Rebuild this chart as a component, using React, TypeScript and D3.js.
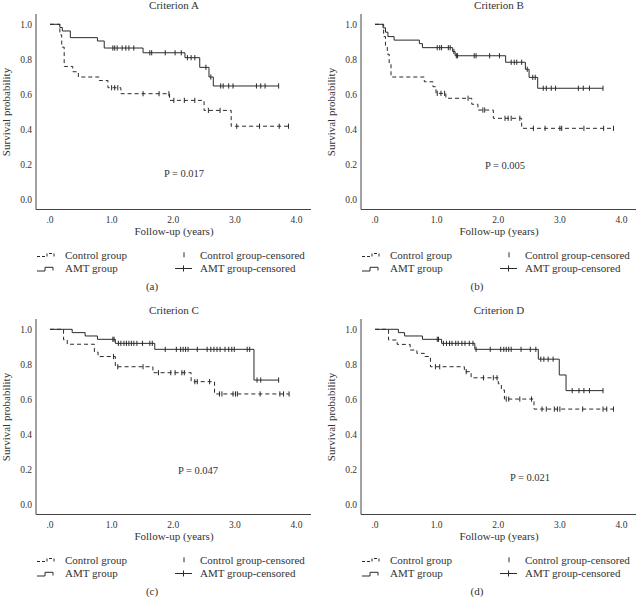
import React from 'react';
import * as d3 from 'd3';

// ---------- data ----------
const xTickValues = [0, 1, 2, 3, 4];
const xTickLabels = ['.0', '1.0', '2.0', '3.0', '4.0'];
const yTickValues = [0, 0.2, 0.4, 0.6, 0.8, 1.0];
const yTickLabels = ['0.0', '0.2', '0.4', '0.6', '0.8', '1.0'];

const titles = ['Criterion A', 'Criterion B', 'Criterion C', 'Criterion D'];
const tags = ['(a)', '(b)', '(c)', '(d)'];
const pTexts = ['P = 0.017', 'P = 0.005', 'P = 0.047', 'P = 0.021'];

// Criterion A
const A_amtTimes = [0.16, 0.2, 0.33, 0.77, 0.88, 1.51, 2.19, 2.43, 2.58, 2.65];
const A_amtSurv = [0.982, 0.962, 0.924, 0.905, 0.865, 0.838, 0.81, 0.755, 0.7, 0.649];
const A_amtCens = [1.02, 1.05, 1.09, 1.17, 1.23, 1.28, 1.36, 1.62, 1.65, 1.87, 2.03, 2.13, 2.23, 2.29, 2.35, 2.53, 2.61, 2.77, 2.81, 2.9, 2.97, 3.35, 3.42, 3.49, 3.71];
const A_ctlTimes = [0.16, 0.19, 0.23, 0.37, 0.46, 0.8, 0.94, 1.15, 1.94, 2.5, 2.94];
const A_ctlSurv = [0.94, 0.87, 0.76, 0.73, 0.7, 0.68, 0.639, 0.605, 0.567, 0.51, 0.42];
const A_ctlCens = [1.0, 1.05, 1.1, 1.51, 1.77, 1.93, 2.01, 2.18, 2.35, 2.57, 2.76, 3.03, 3.4, 3.72, 3.87];

// Criterion B
const B_amtTimes = [0.13, 0.17, 0.21, 0.31, 0.72, 0.77, 1.26, 1.3, 2.12, 2.44, 2.5, 2.64];
const B_amtSurv = [0.98, 0.955, 0.93, 0.91, 0.89, 0.867, 0.845, 0.821, 0.784, 0.744, 0.698, 0.636];
const B_amtCens = [1.01, 1.05, 1.08, 1.19, 1.22, 1.28, 1.32, 1.34, 1.61, 1.64, 1.86, 2.02, 2.21, 2.26, 2.3, 2.38, 2.47, 2.56, 2.6, 2.73, 2.78, 2.86, 2.93, 3.3, 3.38, 3.48, 3.7];
const B_ctlTimes = [0.14, 0.17, 0.2, 0.23, 0.26, 0.8, 0.94, 0.99, 1.15, 1.57, 1.67, 1.92, 2.38];
const B_ctlSurv = [0.93, 0.88, 0.83, 0.78, 0.7, 0.673, 0.645, 0.607, 0.579, 0.545, 0.512, 0.465, 0.408];
const B_ctlCens = [1.01, 1.07, 1.13, 1.51, 1.75, 1.78, 2.11, 2.16, 2.21, 2.35, 2.57, 2.76, 3.0, 3.03, 3.39, 3.71, 3.87];

// Criterion C
const C_amtTimes = [0.36, 0.57, 0.77, 1.06, 1.7, 3.31];
const C_amtSurv = [0.981, 0.962, 0.943, 0.92, 0.886, 0.711];
const C_amtCens = [1.02, 1.04, 1.11, 1.15, 1.2, 1.24, 1.28, 1.32, 1.36, 1.41, 1.5, 1.62, 1.66, 1.87, 2.05, 2.12, 2.16, 2.2, 2.24, 2.39, 2.55, 2.61, 2.66, 2.71, 2.76, 2.84, 2.9, 2.95, 2.99, 3.2, 3.24, 3.36, 3.42, 3.71];
const C_ctlTimes = [0.22, 0.28, 0.72, 0.78, 1.06, 1.67, 2.29, 2.67];
const C_ctlSurv = [0.94, 0.915, 0.87, 0.845, 0.787, 0.753, 0.702, 0.632];
const C_ctlCens = [1.03, 1.1, 1.51, 1.76, 1.96, 2.03, 2.14, 2.18, 2.35, 2.39, 2.59, 2.75, 2.79, 2.97, 3.01, 3.04, 3.41, 3.73, 3.79, 3.88];

// Criterion D
const D_amtTimes = [0.38, 0.48, 0.77, 1.08, 1.62, 2.65, 2.99, 3.1];
const D_amtSurv = [0.981, 0.962, 0.943, 0.92, 0.886, 0.83, 0.74, 0.651];
const D_amtCens = [1.01, 1.03, 1.11, 1.16, 1.21, 1.25, 1.31, 1.35, 1.41, 1.46, 1.53, 1.59, 1.64, 1.87, 2.04, 2.09, 2.13, 2.17, 2.21, 2.37, 2.52, 2.61, 2.69, 2.74, 2.81, 2.89, 3.2, 3.31, 3.39, 3.48, 3.7];
const D_ctlTimes = [0.22, 0.36, 0.57, 0.68, 0.8, 0.9, 1.45, 1.56, 2.0, 2.05, 2.1, 2.58];
const D_ctlSurv = [0.939, 0.914, 0.882, 0.863, 0.845, 0.787, 0.759, 0.724, 0.69, 0.655, 0.603, 0.546];
const D_ctlCens = [0.98, 1.05, 1.48, 1.76, 1.92, 1.98, 2.13, 2.17, 2.35, 2.54, 2.71, 2.78, 2.91, 2.96, 3.0, 3.37, 3.7, 3.76, 3.87];

const legendLabels = ['Control group', 'AMT group', 'Control group-censored', 'AMT group-censored'];

// ---------- layout ----------
const W = 637;
const H = 600;
const FONT = '"Liberation Serif", "Times New Roman", serif';
const INK = '#2a2a2a';
const TEXT = '#333';

const panelOffsets = [
  [0, 0],
  [325, 0],
  [0, 305],
  [325, 305],
];
const pPositions = [
  [184, 173],
  [180, 165],
  [198, 165],
  [205, 172],
];

const series = [
  { amt: [A_amtTimes, A_amtSurv, A_amtCens], ctl: [A_ctlTimes, A_ctlSurv, A_ctlCens] },
  { amt: [B_amtTimes, B_amtSurv, B_amtCens], ctl: [B_ctlTimes, B_ctlSurv, B_ctlCens] },
  { amt: [C_amtTimes, C_amtSurv, C_amtCens], ctl: [C_ctlTimes, C_ctlSurv, C_ctlCens] },
  { amt: [D_amtTimes, D_amtSurv, D_amtCens], ctl: [D_ctlTimes, D_ctlSurv, D_ctlCens] },
];

const x = d3.scaleLinear().domain([0, 4]).range([50, 296.5]);
const y = d3.scaleLinear().domain([0, 1]).range([200, 24.3]);

const stepLine = d3
  .line<[number, number]>()
  .x((d) => x(d[0]))
  .y((d) => y(d[1]))
  .curve(d3.curveStepAfter);

function survAt(times: number[], surv: number[], t: number) {
  let s = 1;
  for (let i = 0; i < times.length; i++) if (times[i] <= t) s = surv[i];
  return s;
}

function Curve({ data, dashed }: { data: number[][]; dashed: boolean }) {
  const [times, surv, cens] = data;
  const end = Math.max(...cens, times[times.length - 1]);
  const pts: [number, number][] = [[0, 1]];
  times.forEach((t, i) => pts.push([t, surv[i]]));
  pts.push([end, surv[surv.length - 1]]);
  return (
    <g>
      <path
        d={stepLine(pts) || ''}
        fill="none"
        stroke={INK}
        strokeWidth={1}
        strokeDasharray={dashed ? '4,3' : undefined}
      />
      {cens.map((t, i) => {
        const s = survAt(times, surv, t);
        return (
          <line
            key={i}
            x1={x(t)}
            x2={x(t)}
            y1={y(s) - 2.6}
            y2={y(s) + 2.6}
            stroke={INK}
            strokeWidth={1}
          />
        );
      })}
    </g>
  );
}

function Panel({ idx }: { idx: number }) {
  const [dx, dy] = panelOffsets[idx];
  const [px, py] = pPositions[idx];
  const s = series[idx];
  return (
    <g transform={`translate(${dx},${dy})`} fontFamily={FONT} fill={TEXT}>
      <text x={174} y={9} fontSize={11} textAnchor="middle">
        {titles[idx]}
      </text>
      {/* axes */}
      <line x1={36} x2={36} y1={14} y2={209.5} stroke="#444" strokeWidth={1} />
      <line x1={36} x2={311} y1={209.5} y2={209.5} stroke="#444" strokeWidth={1} />
      {yTickValues.map((v, i) => (
        <text key={i} x={32} y={y(v) + 3.4} fontSize={9.5} textAnchor="end">
          {yTickLabels[i]}
        </text>
      ))}
      {xTickValues.map((v, i) => (
        <text key={i} x={x(v)} y={223} fontSize={9.5} textAnchor="middle">
          {xTickLabels[i]}
        </text>
      ))}
      <text x={174} y={235} fontSize={11} textAnchor="middle">
        Follow-up (years)
      </text>
      <text transform="translate(10,112) rotate(-90)" fontSize={11} textAnchor="middle">
        Survival probability
      </text>
      <Curve data={s.ctl} dashed={true} />
      <Curve data={s.amt} dashed={false} />
      <text x={px} y={py + 3.6} fontSize={10.5} textAnchor="middle">
        {pTexts[idx]}
      </text>
      {/* legend */}
      <path d="M37,256.5 H47 V253.5 H54 V256.5" fill="none" stroke={INK} strokeWidth={1} strokeDasharray="3,2" />
      <text x={65} y={258.5} fontSize={11}>
        {legendLabels[0]}
      </text>
      <path d="M37,271 H45 V267.3 H53 V270.5" fill="none" stroke={INK} strokeWidth={1} />
      <text x={65} y={272} fontSize={11}>
        {legendLabels[1]}
      </text>
      <line x1={184} x2={184} y1={252.3} y2={257.3} stroke={INK} strokeWidth={1} />
      <text x={200} y={258.5} fontSize={11}>
        {legendLabels[2]}
      </text>
      <line x1={175} x2={192} y1={268.5} y2={268.5} stroke={INK} strokeWidth={1} />
      <line x1={183.5} x2={183.5} y1={265.5} y2={271.5} stroke={INK} strokeWidth={1} />
      <text x={200} y={272} fontSize={11}>
        {legendLabels[3]}
      </text>
      <text x={152} y={290} fontSize={11} textAnchor="middle">
        {tags[idx]}
      </text>
    </g>
  );
}

export default function App() {
  return (
    <svg
      width={W}
      height={H}
      viewBox={`0 0 ${W} ${H}`}
      style={{ position: 'absolute', left: 0, top: 0, background: '#fff' }}
    >
      <rect width={W} height={H} fill="#fff" />
      {[0, 1, 2, 3].map((i) => (
        <Panel key={i} idx={i} />
      ))}
    </svg>
  );
}
